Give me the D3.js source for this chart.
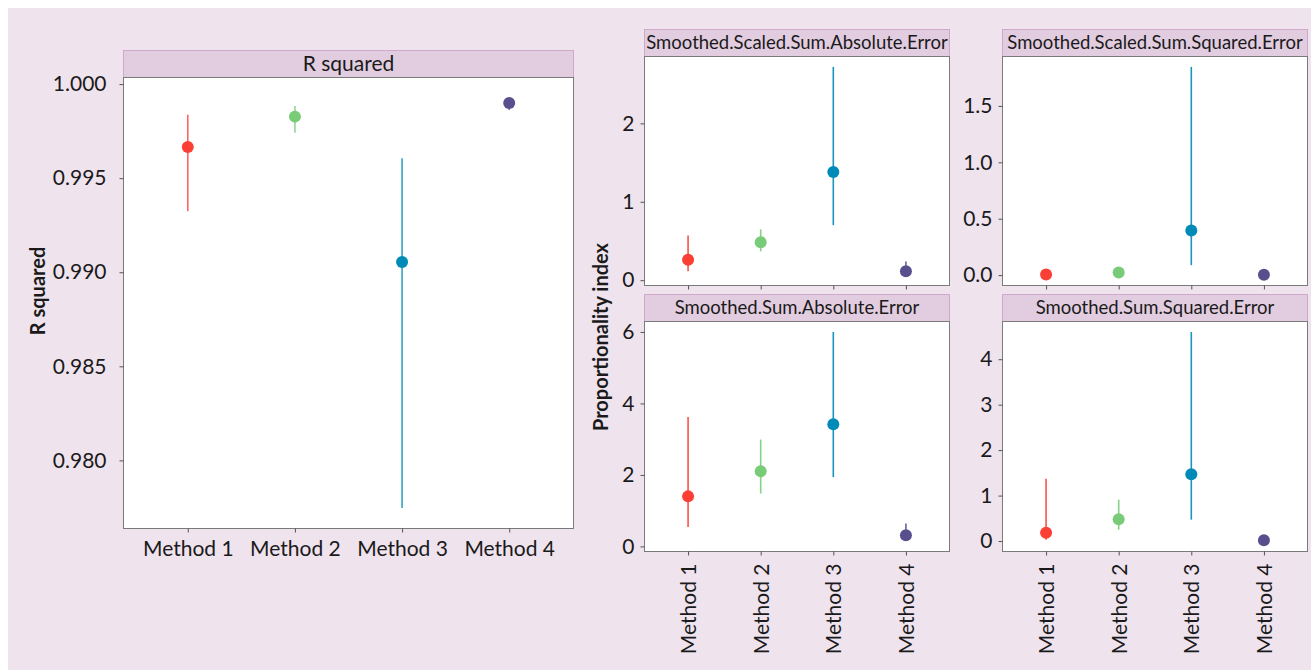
<!DOCTYPE html>
<html>
<head>
<meta charset="utf-8">
<script src="https://cdn.jsdelivr.net/npm/d3@7"></script>
<style>
  html, body { margin: 0; padding: 0; background: #ffffff; }
  svg { display: block; }
  text { font-family: Lato, "Open Sans", sans-serif; fill: #1a1a1a; }
</style>
</head>
<body>
<svg id="chart" width="1311" height="670"></svg>
<script>
// Methods compared and their colours
const methods = ["Method 1", "Method 2", "Method 3", "Method 4"];
const methodColors = ["#fb3f35", "#78cc78", "#008ab8", "#58508d"];

// R squared: point estimate with lower / upper interval
const rsqMean = [0.99665, 0.99827, 0.99055, 0.99899];
const rsqLow  = [0.99325, 0.99741, 0.97747, 0.99862];
const rsqHigh = [0.99837, 0.99883, 0.99606, 0.99926];
const rsqTicks = [0.980, 0.985, 0.990, 0.995, 1.000];

// Proportionality index panels
const ssaeMean = [0.26, 0.485, 1.379, 0.115];
const ssaeLow  = [0.115, 0.367, 0.702, 0.065];
const ssaeHigh = [0.57, 0.647, 2.72, 0.239];
const ssaeTicks = [0, 1, 2];

const sssqMean = [0.006, 0.024, 0.396, 0.003];
const sssqLow  = [0.001, 0.014, 0.088, 0.0];
const sssqHigh = [0.012, 0.035, 1.846, 0.006];
const sssqTicks = [0, 0.5, 1.0, 1.5];

const saeMean = [1.40, 2.10, 3.42, 0.31];
const saeLow  = [0.54, 1.48, 1.94, 0.15];
const saeHigh = [3.62, 2.99, 6.00, 0.64];
const saeTicks = [0, 2, 4, 6];

const ssqMean = [0.185, 0.478, 1.47, 0.02];
const ssqLow  = [0.03, 0.25, 0.47, 0.0];
const ssqHigh = [1.37, 0.91, 4.60, 0.05];
const ssqTicks = [0, 1, 2, 3, 4];

const svg = d3.select("#chart");

// page background
svg.append("rect")
  .attr("x", 8).attr("y", 8).attr("width", 1303).attr("height", 662)
  .attr("fill", "#efe3ee");

function rows(mean, low, high) {
  return methods.map((m, i) => ({ method: m, mean: mean[i], low: low[i], high: high[i], color: methodColors[i] }));
}

function drawPanel(opt) {
  const data = rows(opt.mean, opt.low, opt.high);
  const lo = d3.min(data, d => Math.min(d.low, d.mean));
  const hi = d3.max(data, d => Math.max(d.high, d.mean));
  const pad = (hi - lo) * 0.05;

  const x = d3.scalePoint().domain(methods).range([opt.x0, opt.x1]).padding(0.6);
  const y = d3.scaleLinear().domain([lo - pad, hi + pad]).range([opt.y1, opt.y0]);

  const g = svg.append("g");

  // strip
  g.append("rect")
    .attr("x", opt.x0).attr("y", opt.stripTop + 0.5)
    .attr("width", opt.x1 - opt.x0).attr("height", opt.y0 - opt.stripTop - 0.5)
    .attr("fill", "#e2cde0").attr("stroke", "#cfa8cc").attr("stroke-width", 1);
  g.append("text")
    .attr("x", (opt.x0 + opt.x1) / 2).attr("y", (opt.stripTop + opt.y0) / 2)
    .attr("dy", "0.36em").attr("text-anchor", "middle")
    .style("font-size", opt.stripSize + "px")
    .text(opt.title);

  // panel
  g.append("rect")
    .attr("x", opt.x0).attr("y", opt.y0)
    .attr("width", opt.x1 - opt.x0).attr("height", opt.y1 - opt.y0)
    .attr("fill", "#ffffff").attr("stroke", "#7a7a7a").attr("stroke-width", 1);

  // y axis
  const ya = g.append("g").attr("transform", `translate(${opt.x0},0)`)
    .call(d3.axisLeft(y).tickValues(opt.ticks).tickFormat(d3.format(opt.fmt))
      .tickSize(4).tickPadding(opt.yPad));
  ya.select(".domain").remove();
  ya.selectAll(".tick line").attr("stroke", "#555");
  ya.selectAll(".tick text").style("font-size", "21px").attr("fill", "#1a1a1a")
    .style("font-family", "Lato, sans-serif");

  // x axis
  const xa = g.append("g").attr("transform", `translate(0,${opt.y1})`)
    .call(d3.axisBottom(x).tickSize(4).tickPadding(8));
  xa.select(".domain").remove();
  xa.selectAll(".tick line").attr("stroke", "#555");
  const xt = xa.selectAll(".tick text").style("font-size", "21px").attr("fill", "#1a1a1a")
    .style("font-family", "Lato, sans-serif");
  if (opt.rotate) {
    xt.attr("transform", "rotate(-90)")
      .attr("text-anchor", "end")
      .attr("x", -12).attr("y", 0).attr("dy", "0.36em");
  } else if (opt.showX) {
    xt.attr("y", 27).attr("dy", 0);
  }
  if (!opt.showX) xt.remove();

  // interval lines
  g.selectAll("line.bar").data(data).enter().append("line")
    .attr("class", "bar")
    .attr("x1", d => x(d.method)).attr("x2", d => x(d.method))
    .attr("y1", d => y(d.low)).attr("y2", d => y(d.high))
    .attr("stroke", d => d.color).attr("stroke-width", opt.lineW)
    .attr("stroke-opacity", opt.lineOp);

  // point estimates
  g.selectAll("circle.pt").data(data).enter().append("circle")
    .attr("class", "pt")
    .attr("cx", d => x(d.method)).attr("cy", d => y(d.mean))
    .attr("r", 6).attr("fill", d => d.color);
}

drawPanel({ title: "R squared", mean: rsqMean, low: rsqLow, high: rsqHigh, ticks: rsqTicks, fmt: ".3f",
  x0: 123.5, x1: 573.5, stripTop: 50, y0: 77.5, y1: 528.5, stripSize: 21, yPad: 13,
  showX: true, rotate: false, lineW: 1.6, lineOp: 0.8 });

drawPanel({ title: "Smoothed.Scaled.Sum.Absolute.Error", mean: ssaeMean, low: ssaeLow, high: ssaeHigh,
  ticks: ssaeTicks, fmt: "d",
  x0: 644.5, x1: 949.5, stripTop: 29, y0: 56.5, y1: 285.5, stripSize: 18.5, yPad: 6,
  showX: false, rotate: true, lineW: 1.6, lineOp: 0.9 });

drawPanel({ title: "Smoothed.Scaled.Sum.Squared.Error", mean: sssqMean, low: sssqLow, high: sssqHigh,
  ticks: sssqTicks, fmt: ".1f",
  x0: 1002.5, x1: 1307.5, stripTop: 29, y0: 56.5, y1: 285.5, stripSize: 18.5, yPad: 6,
  showX: false, rotate: true, lineW: 1.6, lineOp: 0.9 });

drawPanel({ title: "Smoothed.Sum.Absolute.Error", mean: saeMean, low: saeLow, high: saeHigh,
  ticks: saeTicks, fmt: "d",
  x0: 644.5, x1: 949.5, stripTop: 294, y0: 321.5, y1: 551.5, stripSize: 18.5, yPad: 6,
  showX: true, rotate: true, lineW: 1.6, lineOp: 0.9 });

drawPanel({ title: "Smoothed.Sum.Squared.Error", mean: ssqMean, low: ssqLow, high: ssqHigh,
  ticks: ssqTicks, fmt: "d",
  x0: 1002.5, x1: 1307.5, stripTop: 294, y0: 321.5, y1: 551.5, stripSize: 18.5, yPad: 6,
  showX: true, rotate: true, lineW: 1.6, lineOp: 0.9 });

// axis titles
svg.append("text")
  .attr("transform", "translate(38,291) rotate(-90)")
  .attr("text-anchor", "middle").attr("dy", "0.36em")
  .style("font-size", "20px").style("font-weight", "bold")
  .text("R squared");

svg.append("text")
  .attr("transform", "translate(601,337) rotate(-90)")
  .attr("text-anchor", "middle").attr("dy", "0.36em")
  .style("font-size", "20px").style("font-weight", "bold")
  .text("Proportionality index");
</script>
</body>
</html>
